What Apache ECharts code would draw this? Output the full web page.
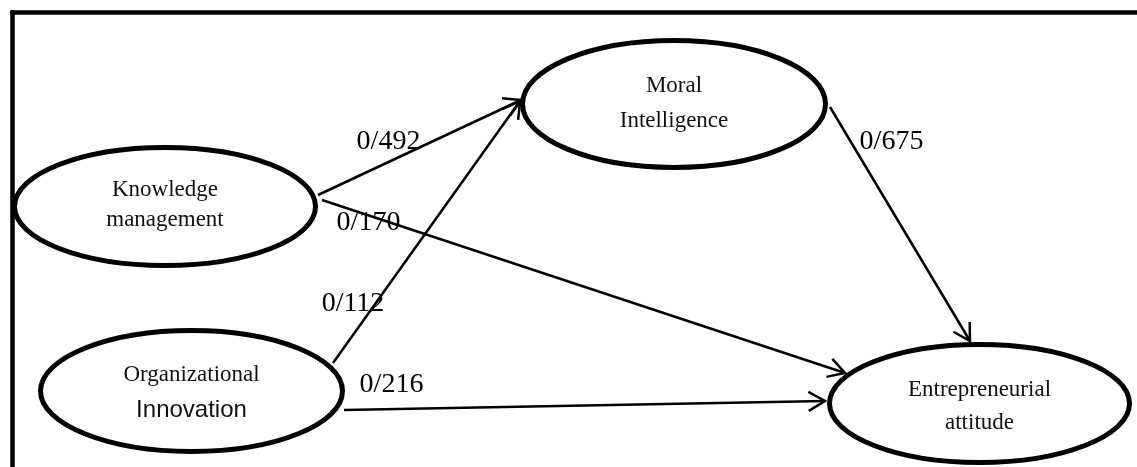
<!DOCTYPE html>
<html>
<head>
<meta charset="utf-8">
<script src="https://cdn.jsdelivr.net/npm/echarts@6/dist/echarts.min.js"></script>
<style>
  html, body { margin: 0; padding: 0; background: #fff; }
  #chart { width: 1137px; height: 467px; }
</style>
</head>
<body>
<div id="chart"></div>
<script>
// constructs of the path model
const nodeLines = [
  ["Knowledge", "management"],
  ["Moral", "Intelligence"],
  ["Organizational", "Innovation"],
  ["Entrepreneurial", "attitude"]
];
// ellipse centre / radii in diagram units
const nodeCenters = [[165, 206.5], [674, 104], [191.5, 391], [979.5, 403.5]];
const nodeRadii = [[150.5, 59], [151.5, 63.5], [151, 60.5], [150, 59]];
const nodeLineY = [[190, 220], [86, 121], [375, 410], [390, 423]];

// paths: coefficient, start point, end point, label spot
const pathCoefficients = ["0/492", "0/170", "0/112", "0/216", "0/675"];
const pathStart = [[318, 195], [322, 200], [333, 363], [344, 410], [830, 107]];
const pathEnd = [[521, 100], [845, 373], [520, 101], [825, 401], [970, 341]];
const pathLabelAt = [[388.5, 142], [368.5, 222.5], [353, 304], [391.5, 385], [891.5, 142]];

const serif = '"Liberation Serif", "Times New Roman", serif';
const sans = '"Liberation Sans", Arial, sans-serif';

const chart = echarts.init(document.getElementById("chart"), null, { renderer: "canvas" });

function renderNode(params, api) {
  const i = params.dataIndex;
  const c = api.coord([api.value(0), api.value(1)]);
  const s = api.size([api.value(2), api.value(3)]);
  const children = [{
    type: "ellipse",
    shape: { cx: c[0], cy: c[1], rx: Math.abs(s[0]), ry: Math.abs(s[1]) },
    style: { fill: "#fff", stroke: "#000", lineWidth: 5 }
  }];
  nodeLines[i].forEach((txt, k) => {
    const p = api.coord([api.value(0), nodeLineY[i][k]]);
    const isSans = i === 2 && k === 1;
    children.push({
      type: "text",
      x: p[0], y: p[1],
      style: {
        text: txt,
        fill: "#111",
        font: isSans ? "24px " + sans : "23px " + serif,
        align: "center",
        verticalAlign: "middle"
      }
    });
  });
  return { type: "group", children };
}

function renderPath(params, api) {
  const a = api.coord([api.value(0), api.value(1)]);
  const b = api.coord([api.value(2), api.value(3)]);
  const ang = Math.atan2(b[1] - a[1], b[0] - a[0]);
  const len = 19, spread = Math.PI / 6;
  const w1 = [b[0] - len * Math.cos(ang - spread), b[1] - len * Math.sin(ang - spread)];
  const w2 = [b[0] - len * Math.cos(ang + spread), b[1] - len * Math.sin(ang + spread)];
  return {
    type: "group",
    children: [
      { type: "line", shape: { x1: a[0], y1: a[1], x2: b[0], y2: b[1] },
        style: { stroke: "#000", lineWidth: 2.5 } },
      { type: "polyline", shape: { points: [w1, b, w2] },
        style: { stroke: "#000", lineWidth: 2.5, fill: null } }
    ]
  };
}

function renderLabel(params, api) {
  const p = api.coord([api.value(0), api.value(1)]);
  return {
    type: "text", x: p[0], y: p[1],
    style: {
      text: pathCoefficients[params.dataIndex],
      fill: "#000",
      font: "28px " + serif,
      align: "center",
      verticalAlign: "middle"
    }
  };
}

chart.setOption({
  animation: false,
  backgroundColor: "#fff",
  grid: { left: 12, top: 12, right: 0, bottom: 0 },
  xAxis: {
    type: "value", min: 12, max: 1137, position: "top",
    axisLine: { show: true, onZero: false, lineStyle: { color: "#000", width: 4.5 } },
    axisTick: { show: false }, axisLabel: { show: false }, splitLine: { show: false }
  },
  yAxis: {
    type: "value", min: 12, max: 467, inverse: true, position: "left",
    axisLine: { show: true, onZero: false, lineStyle: { color: "#000", width: 4.5 } },
    axisTick: { show: false }, axisLabel: { show: false }, splitLine: { show: false }
  },
  series: [
    {
      type: "custom", name: "paths", silent: true,
      renderItem: renderPath,
      data: pathStart.map((s, i) => [s[0], s[1], pathEnd[i][0], pathEnd[i][1]])
    },
    {
      type: "custom", name: "constructs", silent: true,
      renderItem: renderNode,
      data: nodeCenters.map((c, i) => [c[0], c[1], nodeRadii[i][0], nodeRadii[i][1]])
    },
    {
      type: "custom", name: "coefficients", silent: true,
      renderItem: renderLabel,
      data: pathLabelAt
    }
  ]
});

window.addEventListener("resize", () => chart.resize());
</script>
</body>
</html>
